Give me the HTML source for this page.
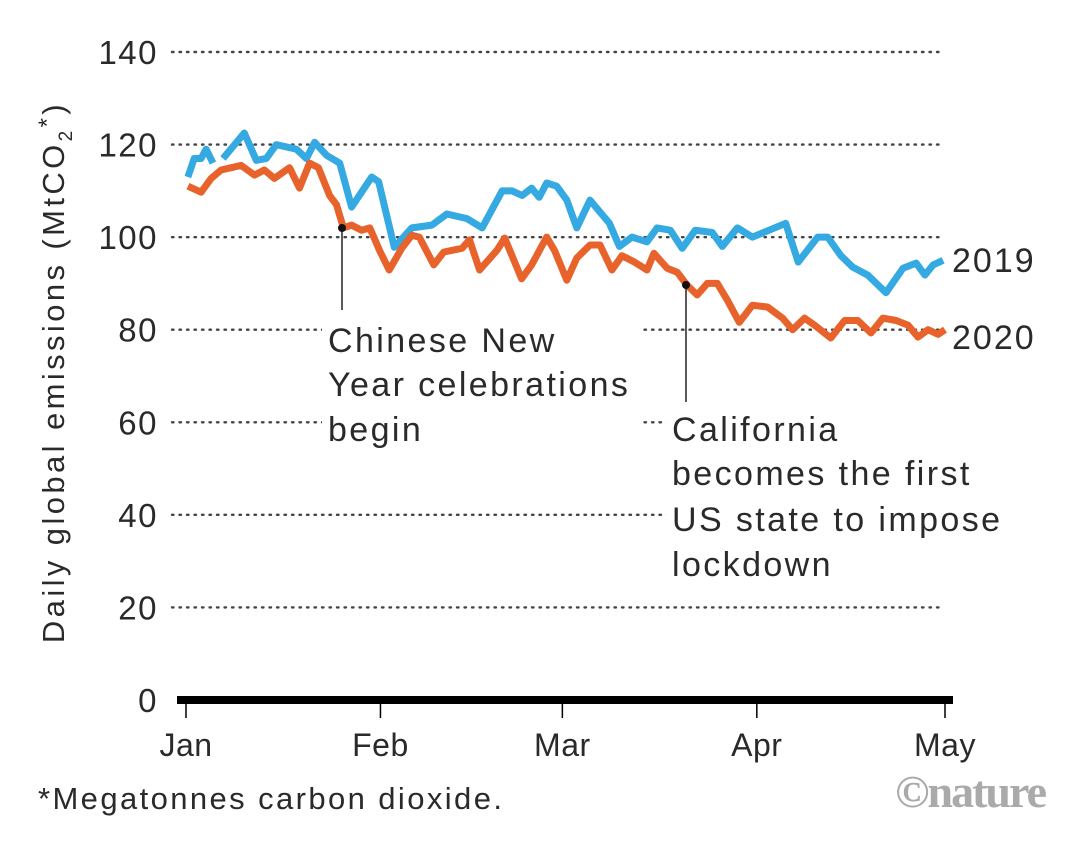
<!DOCTYPE html>
<html><head><meta charset="utf-8">
<style>
html,body{margin:0;padding:0;background:#fff;}
body{width:1080px;height:836px;overflow:hidden;font-family:"Liberation Sans",sans-serif;}
</style></head>
<body>
<svg id="chart" width="1080" height="836" viewBox="0 0 1080 836" xmlns="http://www.w3.org/2000/svg" font-family="Liberation Sans, sans-serif">
<g id="grid"></g>
<g id="yticks"></g>
<g id="series"></g>
<g id="xaxis"></g>
<text transform="translate(64,372) rotate(-90)" text-anchor="middle" font-size="31" letter-spacing="3.4" fill="#2a2a2a">Daily global emissions (MtCO<tspan font-size="19" dy="8">2</tspan><tspan dy="-17" font-size="24">*</tspan><tspan dy="9">)</tspan></text>
<g>
<line x1="342" y1="228" x2="342" y2="310" stroke="#222" stroke-width="1.5"/>
<circle cx="342" cy="228" r="4" fill="#111"/>
<rect x="322" y="318" width="320" height="130" fill="#fff"/>
<text x="328" y="352" font-size="34" letter-spacing="2.4" fill="#2a2a2a">Chinese New</text>
<text x="328" y="396" font-size="34" letter-spacing="2.4" fill="#2a2a2a">Year celebrations</text>
<text x="328" y="441" font-size="34" letter-spacing="2.4" fill="#2a2a2a">begin</text>
</g>
<g>
<line x1="686" y1="285" x2="686" y2="402" stroke="#222" stroke-width="1.5"/>
<circle cx="686" cy="285" r="4" fill="#111"/>
<rect x="666" y="408" width="345" height="175" fill="#fff"/>
<text x="672" y="441" font-size="34" letter-spacing="2.4" fill="#2a2a2a">California</text>
<text x="672" y="485" font-size="34" letter-spacing="2.4" fill="#2a2a2a">becomes the first</text>
<text x="672" y="531" font-size="34" letter-spacing="2.4" fill="#2a2a2a">US state to impose</text>
<text x="672" y="576" font-size="34" letter-spacing="2.4" fill="#2a2a2a">lockdown</text>
</g>
<text x="952" y="272" font-size="34" letter-spacing="2" fill="#2a2a2a">2019</text>
<text x="952" y="349" font-size="34" letter-spacing="2" fill="#2a2a2a">2020</text>
<text x="38" y="809" font-size="31" letter-spacing="2.4" fill="#2a2a2a">*Megatonnes carbon dioxide.</text>
<text x="1045" y="807" text-anchor="end" font-size="46" font-weight="bold" font-family="Liberation Serif, serif" fill="#aaa" letter-spacing="-2">©nature</text>
</svg>
<script>
const yTicks=[0,20,40,60,80,100,120,140];
const months=["Jan","Feb","Mar","Apr","May"];
const monthDays=[0,31,60,91,121];
const days2019=[0.3,1.3,2.4,3.2,4.3,null,5.9,9.3,11.2,12.8,14.4,17.6,19.2,20.5,22.4,24.5,26.4,29.6,30.7,33.2,36,39.2,41.6,44.8,47.2,50.4,52,53.6,55.1,56.3,57.5,59.1,60.7,62.3,64.4,67.5,69.1,71.1,73.5,75.1,77.2,79.1,81.2,83.9,85.5,87.9,90.3,95.6,97.6,100.7,102.3,104.4,106.3,108.7,111.6,114.3,116.4,117.8,119.1,120.7];
const vals2019=[113,117,117,119,116,null,117,122.5,116.6,117,120,119,117,120.5,117.7,116,106.5,113,112,97.8,102,102.6,105,104,102,110,110,109,110.6,108.6,111.7,111,108,102,108,103,98,100,99,102,101.5,97.6,101.5,101,98,102,100,103,94.6,100,100,96,93.5,91.8,88,93.3,94.4,91.8,94,95];
const days2020=[0.3,2.4,4,5.6,7.2,8.8,10.9,12.5,14.1,16.5,18.1,19.7,21.1,22.9,24,25.1,26.4,28,29.3,30.9,32.4,34.4,36,37.2,39.5,41.1,44,45.2,46.8,49.6,50.8,53.5,55.1,57.5,58.8,60.7,62.3,64.4,66,67.9,69.5,71.5,73.5,74.6,76.7,78.3,79.9,81.5,83.1,84.7,86.3,88.2,90.3,92.7,95.1,96.7,98.6,100.2,102.8,105,107.1,109.2,111.1,113.2,115.1,116.7,118.3,119.9,121];
const vals2020=[111,109.7,112.7,114.5,115,115.5,113.4,114.5,112.7,115,110.6,116,115,109,107,102,102.6,101.5,102,97,92.9,97.6,100.4,100,94,96.8,97.6,99.4,92.9,97.2,99.8,91,94,100,97,90.7,95.5,98.3,98.3,92.9,96,94.6,92.9,96.5,93.3,92.4,89.6,87.5,90,90,86.4,81.6,85.3,84.9,82.5,80,82.5,81,78.2,82,82,79.3,82.5,82,81,78.4,80,79,80];

const NS="http://www.w3.org/2000/svg";
const X=d=>186+d*(945-186)/121;
const Y=v=>700-v*(700-52)/140;
function mk(tag,attrs,parent){const e=document.createElementNS(NS,tag);for(const k in attrs)e.setAttribute(k,attrs[k]);parent.appendChild(e);return e;}
const grid=document.getElementById('grid'),yt=document.getElementById('yticks'),ser=document.getElementById('series'),xa=document.getElementById('xaxis');
yTicks.forEach(t=>{
  if(t>0){const l=mk('line',{x1:172,x2:942,y1:Y(t),y2:Y(t),stroke:'#444','stroke-width':2.4,'stroke-dasharray':'1.5 6','stroke-linecap':'round'},grid);
  
  }
  const tx=mk('text',{x:158,y:Y(t)+12,'text-anchor':'end','font-size':33,'letter-spacing':1.5,fill:'#2a2a2a'},yt);
  tx.textContent=t;
  
  
});
function path(days,vals){let d='',pen=false;for(let i=0;i<days.length;i++){if(days[i]===null){pen=false;continue;}d+=(pen?'L':'M')+X(days[i]).toFixed(1)+','+Y(vals[i]).toFixed(1);pen=true;}return d;}
const p19=mk('path',{d:path(days2019,vals2019),fill:'none',stroke:'#35a9e1','stroke-width':7,'stroke-linejoin':'round'},ser);


const p20=mk('path',{d:path(days2020,vals2020),fill:'none',stroke:'#e8622b','stroke-width':7,'stroke-linejoin':'round'},ser);


const ax=mk('line',{x1:177,x2:953,y1:700,y2:700,stroke:'#000','stroke-width':8},xa);


months.forEach((m,i)=>{
  const x=X(monthDays[i]);
  const tk=mk('line',{x1:x,x2:x,y1:700,y2:718,stroke:'#000','stroke-width':1.5},xa);
  
  
  const tx=mk('text',{x:x,y:756,'text-anchor':'middle','font-size':32,'letter-spacing':0.5,fill:'#2a2a2a'},xa);
  tx.textContent=m;
  
  
});
</script>
</body></html>
